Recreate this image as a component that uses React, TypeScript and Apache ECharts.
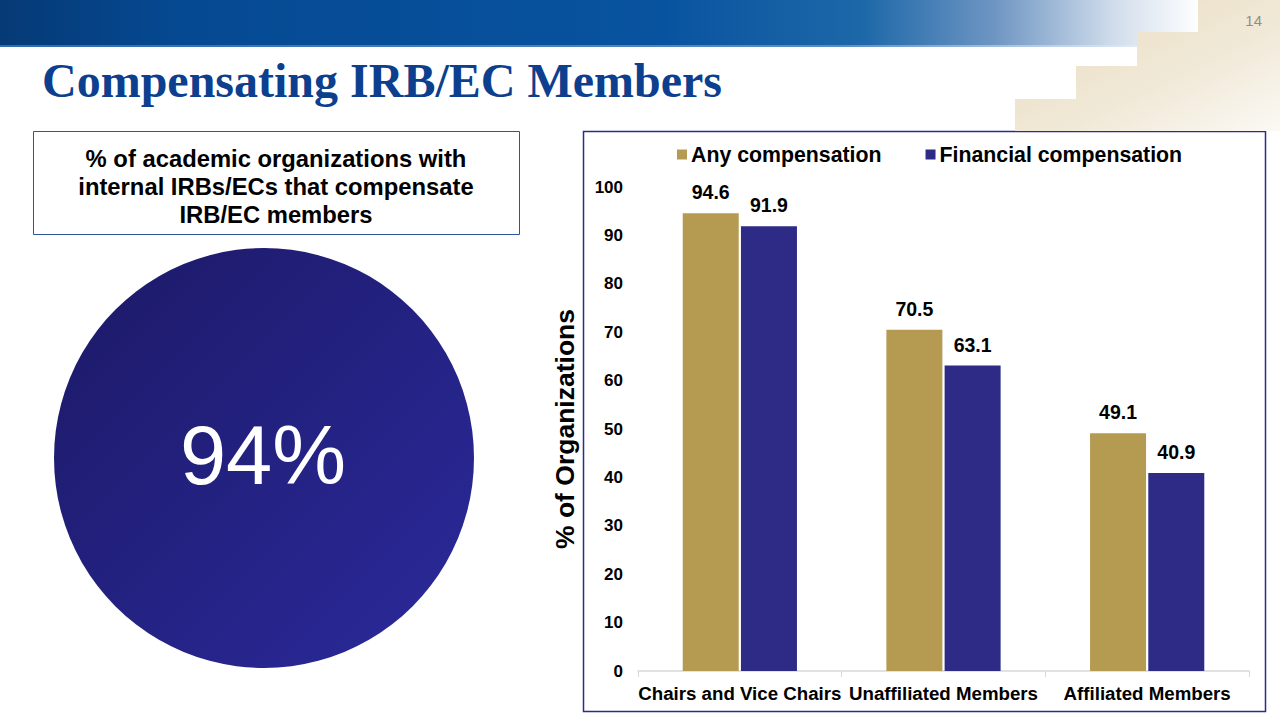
import React, { useEffect, useRef } from "react";
import * as echarts from "echarts";

const categories = ["Chairs and Vice Chairs", "Unaffiliated Members", "Affiliated Members"];
const anyCompensation = [94.6, 70.5, 49.1];
const financialCompensation = [91.9, 63.1, 40.9];
const seriesNames = ["Any compensation", "Financial compensation"];
const yTicks = { min: 0, max: 100, interval: 10 };
const headline = "94%";
const boxLines = [
  "% of academic organizations with",
  "internal IRBs/ECs that compensate",
  "IRB/EC members",
];
const pageTitle = "Compensating IRB/EC Members";
const pageNumber = "14";

const GOLD = "#b59a52";
const NAVY = "#2e2b87";
const FONT = "'Liberation Sans', Arial, sans-serif";

export default function App() {
  const ref = useRef<HTMLDivElement>(null);
  useEffect(() => {
    if (!ref.current) return;
    const chart = echarts.init(ref.current, undefined, { renderer: "svg" });
    const option: any = {
      animation: false,
      backgroundColor: "#ffffff",
      textStyle: { fontFamily: FONT },
      graphic: [
        // banner
        {
          type: "rect",
          shape: { x: 0, y: 0, width: 1200, height: 46 },
          style: {
            fill: {
              type: "linear", x: 0, y: 0, x2: 1, y2: 0,
              colorStops: [
                { offset: 0, color: "#053a76" },
                { offset: 0.15, color: "#054992" },
                { offset: 0.55, color: "#08539f" },
                { offset: 0.72, color: "#1d68a8" },
                { offset: 0.83, color: "#6f96c3" },
                { offset: 0.93, color: "#d2deec" },
                { offset: 1, color: "#ffffff" },
              ],
            },
          },
          silent: true,
        },
        {
          type: "rect",
          shape: { x: 0, y: 45, width: 1200, height: 2 },
          style: {
            fill: {
              type: "linear", x: 0, y: 0, x2: 1, y2: 0,
              colorStops: [
                { offset: 0, color: "#2e6bb0" },
                { offset: 0.7, color: "#5b8cc4" },
                { offset: 1, color: "#ffffff" },
              ],
            },
          },
          silent: true,
        },
        // stairs
        {
          type: "polygon",
          shape: {
            points: [
              [1198, 0], [1280, 0], [1280, 131], [1015, 131], [1015, 99],
              [1076, 99], [1076, 66], [1137, 66], [1137, 32], [1198, 32],
            ],
          },
          style: {
            fill: {
              type: "linear", x: 0, y: 0, x2: 1, y2: 1,
              colorStops: [
                { offset: 0, color: "#e8dbbf" },
                { offset: 0.6, color: "#f1e9d8" },
                { offset: 1, color: "#fbf9f4" },
              ],
            },
          },
          silent: true,
        },
        {
          type: "text",
          style: {
            text: pageNumber, x: 1262, y: 20, align: "right", verticalAlign: "middle",
            font: `15px ${FONT}`, fill: "#8e8e8e",
          },
        },
        // title
        {
          type: "text",
          style: {
            text: pageTitle, x: 42, y: 80, verticalAlign: "middle",
            font: `bold 48px 'Liberation Serif', 'Times New Roman', serif`, fill: "#0d3f8f",
          },
        },
        // left box
        {
          type: "rect",
          shape: { x: 33.5, y: 131.5, width: 486, height: 103 },
          style: { fill: "#ffffff", stroke: "#2f5597", lineWidth: 1 },
        },
        ...boxLines.map((t, i) => ({
          type: "text",
          style: {
            text: t, x: 276, y: 158 + i * 28, align: "center", verticalAlign: "middle",
            font: `bold 23.8px ${FONT}`, fill: "#000000",
          },
        })),
        // circle
        {
          type: "circle",
          shape: { cx: 264, cy: 458, r: 210 },
          style: {
            fill: {
              type: "linear", x: 0, y: 0, x2: 1, y2: 1,
              colorStops: [
                { offset: 0, color: "#1c1966" },
                { offset: 1, color: "#2b2a9c" },
              ],
            },
          },
        },
        {
          type: "text",
          style: {
            text: headline, x: 263, y: 455, align: "center", verticalAlign: "middle",
            font: `83px ${FONT}`, fill: "#ffffff",
          },
        },
        // chart box
        {
          type: "rect",
          shape: { x: 583.5, y: 131.5, width: 682, height: 580 },
          style: { fill: "none", stroke: "#2e2b8a", lineWidth: 1.5 },
          z: -1,
        },
      ],
      legend: {
        left: 672,
        top: 139,
        itemWidth: 10,
        itemHeight: 10,
        itemGap: 44,
        icon: "rect",
        data: seriesNames,
        textStyle: { fontFamily: FONT, fontWeight: "bold", fontSize: 21.3, color: "#000", padding: [0, 0, 0, -1] },
      },
      grid: { left: 638, right: 31, top: 187, bottom: 49, containLabel: false },
      xAxis: {
        type: "category",
        data: categories,
        axisLine: { lineStyle: { color: "#d9d9d9", width: 1.5 } },
        axisTick: { show: true, length: 6, lineStyle: { color: "#d9d9d9" } },
        axisLabel: {
          fontFamily: FONT, fontWeight: "bold", fontSize: 18.7, color: "#000", margin: 13, interval: 0,
        },
      },
      yAxis: {
        type: "value",
        min: yTicks.min,
        max: yTicks.max,
        interval: yTicks.interval,
        name: "% of Organizations",
        nameLocation: "middle",
        nameRotate: 90,
        nameGap: 60,
        nameTextStyle: { fontFamily: FONT, fontWeight: "bold", fontSize: 26.5, color: "#000" },
        axisLine: { show: false },
        axisTick: { show: false },
        splitLine: { show: false },
        axisLabel: { fontFamily: FONT, fontWeight: "bold", fontSize: 17, color: "#000", margin: 15 },
      },
      series: [
        {
          name: seriesNames[0],
          type: "bar",
          data: anyCompensation,
          itemStyle: { color: GOLD },
          barWidth: 56,
          barGap: "4%",
          label: {
            show: true, position: "top", distance: 11, fontFamily: FONT,
            fontWeight: "bold", fontSize: 19.5, color: "#000",
          },
        },
        {
          name: seriesNames[1],
          type: "bar",
          data: financialCompensation,
          itemStyle: { color: NAVY },
          barWidth: 56,
          barGap: "4%",
          label: {
            show: true, position: "top", distance: 11, fontFamily: FONT,
            fontWeight: "bold", fontSize: 19.5, color: "#000",
          },
        },
      ],
    };
    chart.setOption(option);
    return () => chart.dispose();
  }, []);
  return (
    <div
      ref={ref}
      style={{ position: "fixed", left: 0, top: 0, width: 1280, height: 720 }}
    />
  );
}
